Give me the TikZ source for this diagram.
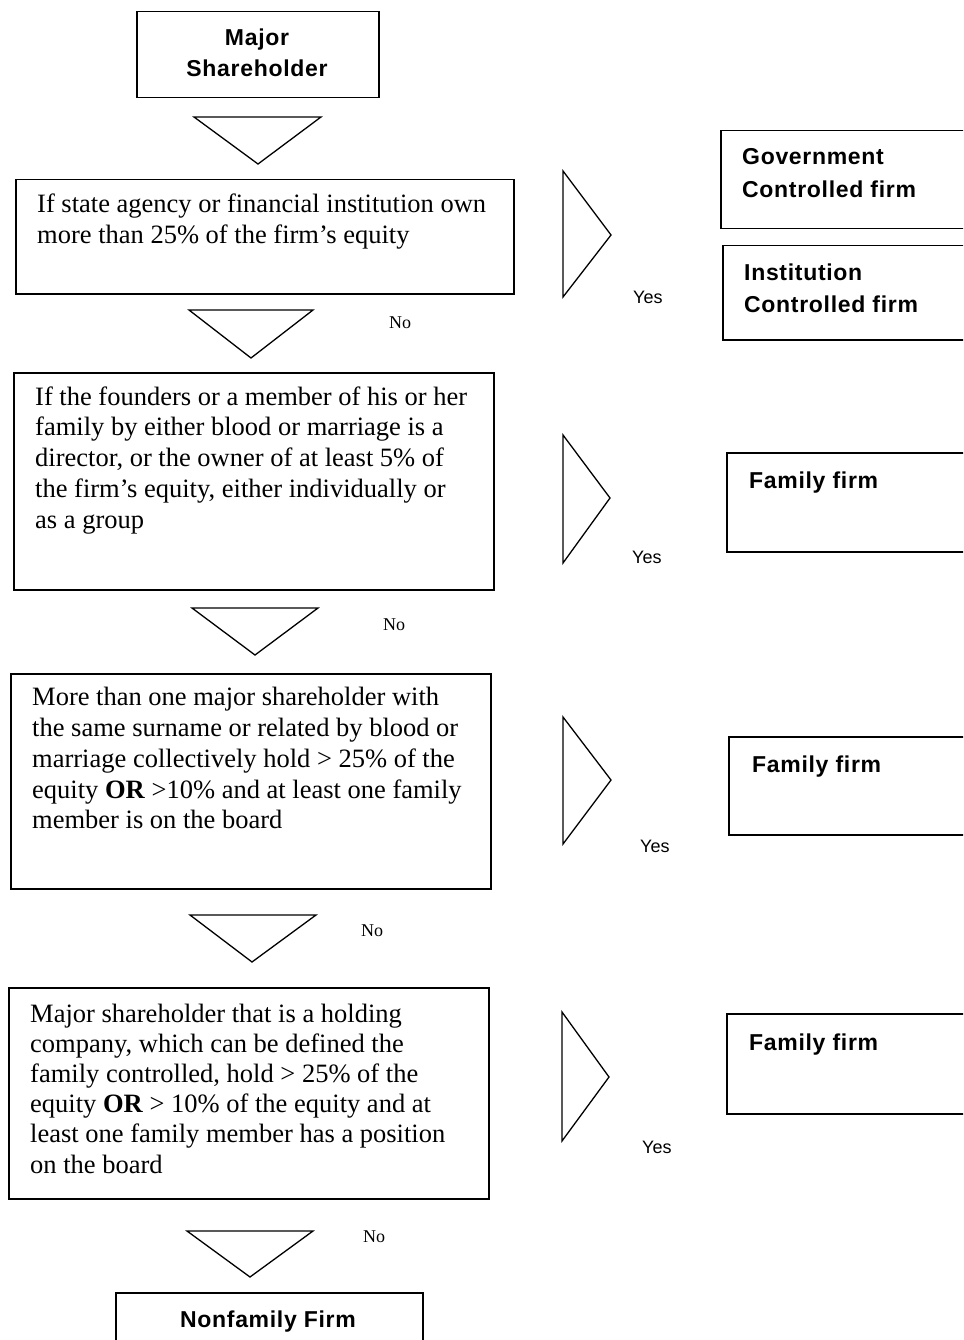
\documentclass[tikz,border=0pt]{standalone}
\usepackage{fontspec}
\setmainfont{Liberation Serif}
\newfontfamily\lsans{Liberation Sans}
\newfontfamily\lsansb[LetterSpace=3]{Liberation Sans Bold}
\begin{document}
\begin{tikzpicture}[x=1pt,y=-1pt,
  box/.style={draw, line width=1.5pt, inner sep=0pt, anchor=north west, rectangle},
  tri/.style={draw, line width=1.3pt, line join=miter},
  body/.style={anchor=base west, align=left, inner sep=0pt, font=\fontsize{26.5}{30.8}\selectfont},
  lbl/.style={anchor=base west, align=left, inner sep=0pt, font=\lsansb\fontsize{23}{32.5}\selectfont},
  clbl/.style={anchor=base, align=center, inner sep=0pt, font=\lsansb\fontsize{23}{31}\selectfont},
  yes/.style={anchor=base west, inner sep=0pt, font=\lsans\fontsize{18}{20}\selectfont},
  no/.style={anchor=base west, inner sep=0pt, font=\fontsize{18}{20}\selectfont}]
\path[use as bounding box] (0,0) rectangle (963,1340);
\clip (0,0) rectangle (963,1340);
% left column boxes
\node[box, minimum width=242pt, minimum height=86pt] (b0) at (136,11) {};
\node[box, minimum width=498pt, minimum height=114pt] (b1) at (15,179) {};
\node[box, minimum width=480pt, minimum height=217pt] (b2) at (13,372) {};
\node[box, minimum width=480pt, minimum height=215pt] (b3) at (10,673) {};
\node[box, minimum width=480pt, minimum height=211pt] (b4) at (8,987) {};
\node[box, minimum width=307pt, minimum height=70pt] (b5) at (115,1292) {};
% right column boxes
\node[box, minimum width=260pt, minimum height=98pt] (g) at (720,130) {};
\node[box, minimum width=260pt, minimum height=94pt] (inst) at (722,245) {};
\node[box, minimum width=260pt, minimum height=99pt] (f1) at (726,452) {};
\node[box, minimum width=260pt, minimum height=98pt] (f2) at (728,736) {};
\node[box, minimum width=260pt, minimum height=100pt] (f3) at (726,1013) {};
% texts (anchored at the baseline of the last line)
\node[clbl] (t0) at (257,77) {Major\\Shareholder};
\node[body] (t1) at (37,243.8) {If state agency or financial institution own\\more than 25\% of the firm’s equity};
\node[body] (t2) at (35,528.2) {If the founders or a member of his or her\\family by either blood or marriage is a\\director, or the owner of at least 5\% of\\the firm’s equity, either individually or\\as a group};
\node[body] (t3) at (32,828.8) {More than one major shareholder with\\the same surname or related by blood or\\marriage collectively hold > 25\% of the\\equity \textbf{OR} >10\% and at least one family\\member is on the board};
\node[body, font=\fontsize{26.5}{30.2}\selectfont] (t4) at (30,1173) {Major shareholder that is a holding\\company, which can be defined the\\family controlled, hold > 25\% of the\\equity \textbf{OR} > 10\% of the equity and at\\least one family member has a position\\on the board};
\node[clbl] (t5) at (268,1327) {Nonfamily Firm};
\node[lbl] (tg) at (742,197.5) {Government\\Controlled firm};
\node[lbl] (ti) at (744,312.5) {Institution\\Controlled firm};
\node[lbl] (tf1) at (749,488) {Family firm};
\node[lbl] (tf2) at (752,772) {Family firm};
\node[lbl] (tf3) at (749,1050) {Family firm};
% down triangles
\draw[tri] (194,117) -- (321,117) -- (258,164) -- cycle;
\draw[tri] (189,310) -- (313,310) -- (251,358) -- cycle;
\draw[tri] (192,608) -- (318,608) -- (255,655) -- cycle;
\draw[tri] (190,915) -- (316,915) -- (252,962) -- cycle;
\draw[tri] (187,1231) -- (313,1231) -- (250,1277) -- cycle;
% right triangles
\draw[tri] (563,171) -- (611,235) -- (563,297) -- cycle;
\draw[tri] (563,435) -- (610,498) -- (563,563) -- cycle;
\draw[tri] (563,717) -- (611,780) -- (563,844) -- cycle;
\draw[tri] (562,1012) -- (609,1077) -- (562,1141) -- cycle;
% labels
\node[no] (n1) at (389,328) {No};
\node[no] (n2) at (383,630) {No};
\node[no] (n3) at (361,936) {No};
\node[no] (n4) at (363,1242) {No};
\node[yes] (y1) at (633,303) {Yes};
\node[yes] (y2) at (632,563) {Yes};
\node[yes] (y3) at (640,852) {Yes};
\node[yes] (y4) at (642,1153) {Yes};
\end{tikzpicture}
\end{document}
